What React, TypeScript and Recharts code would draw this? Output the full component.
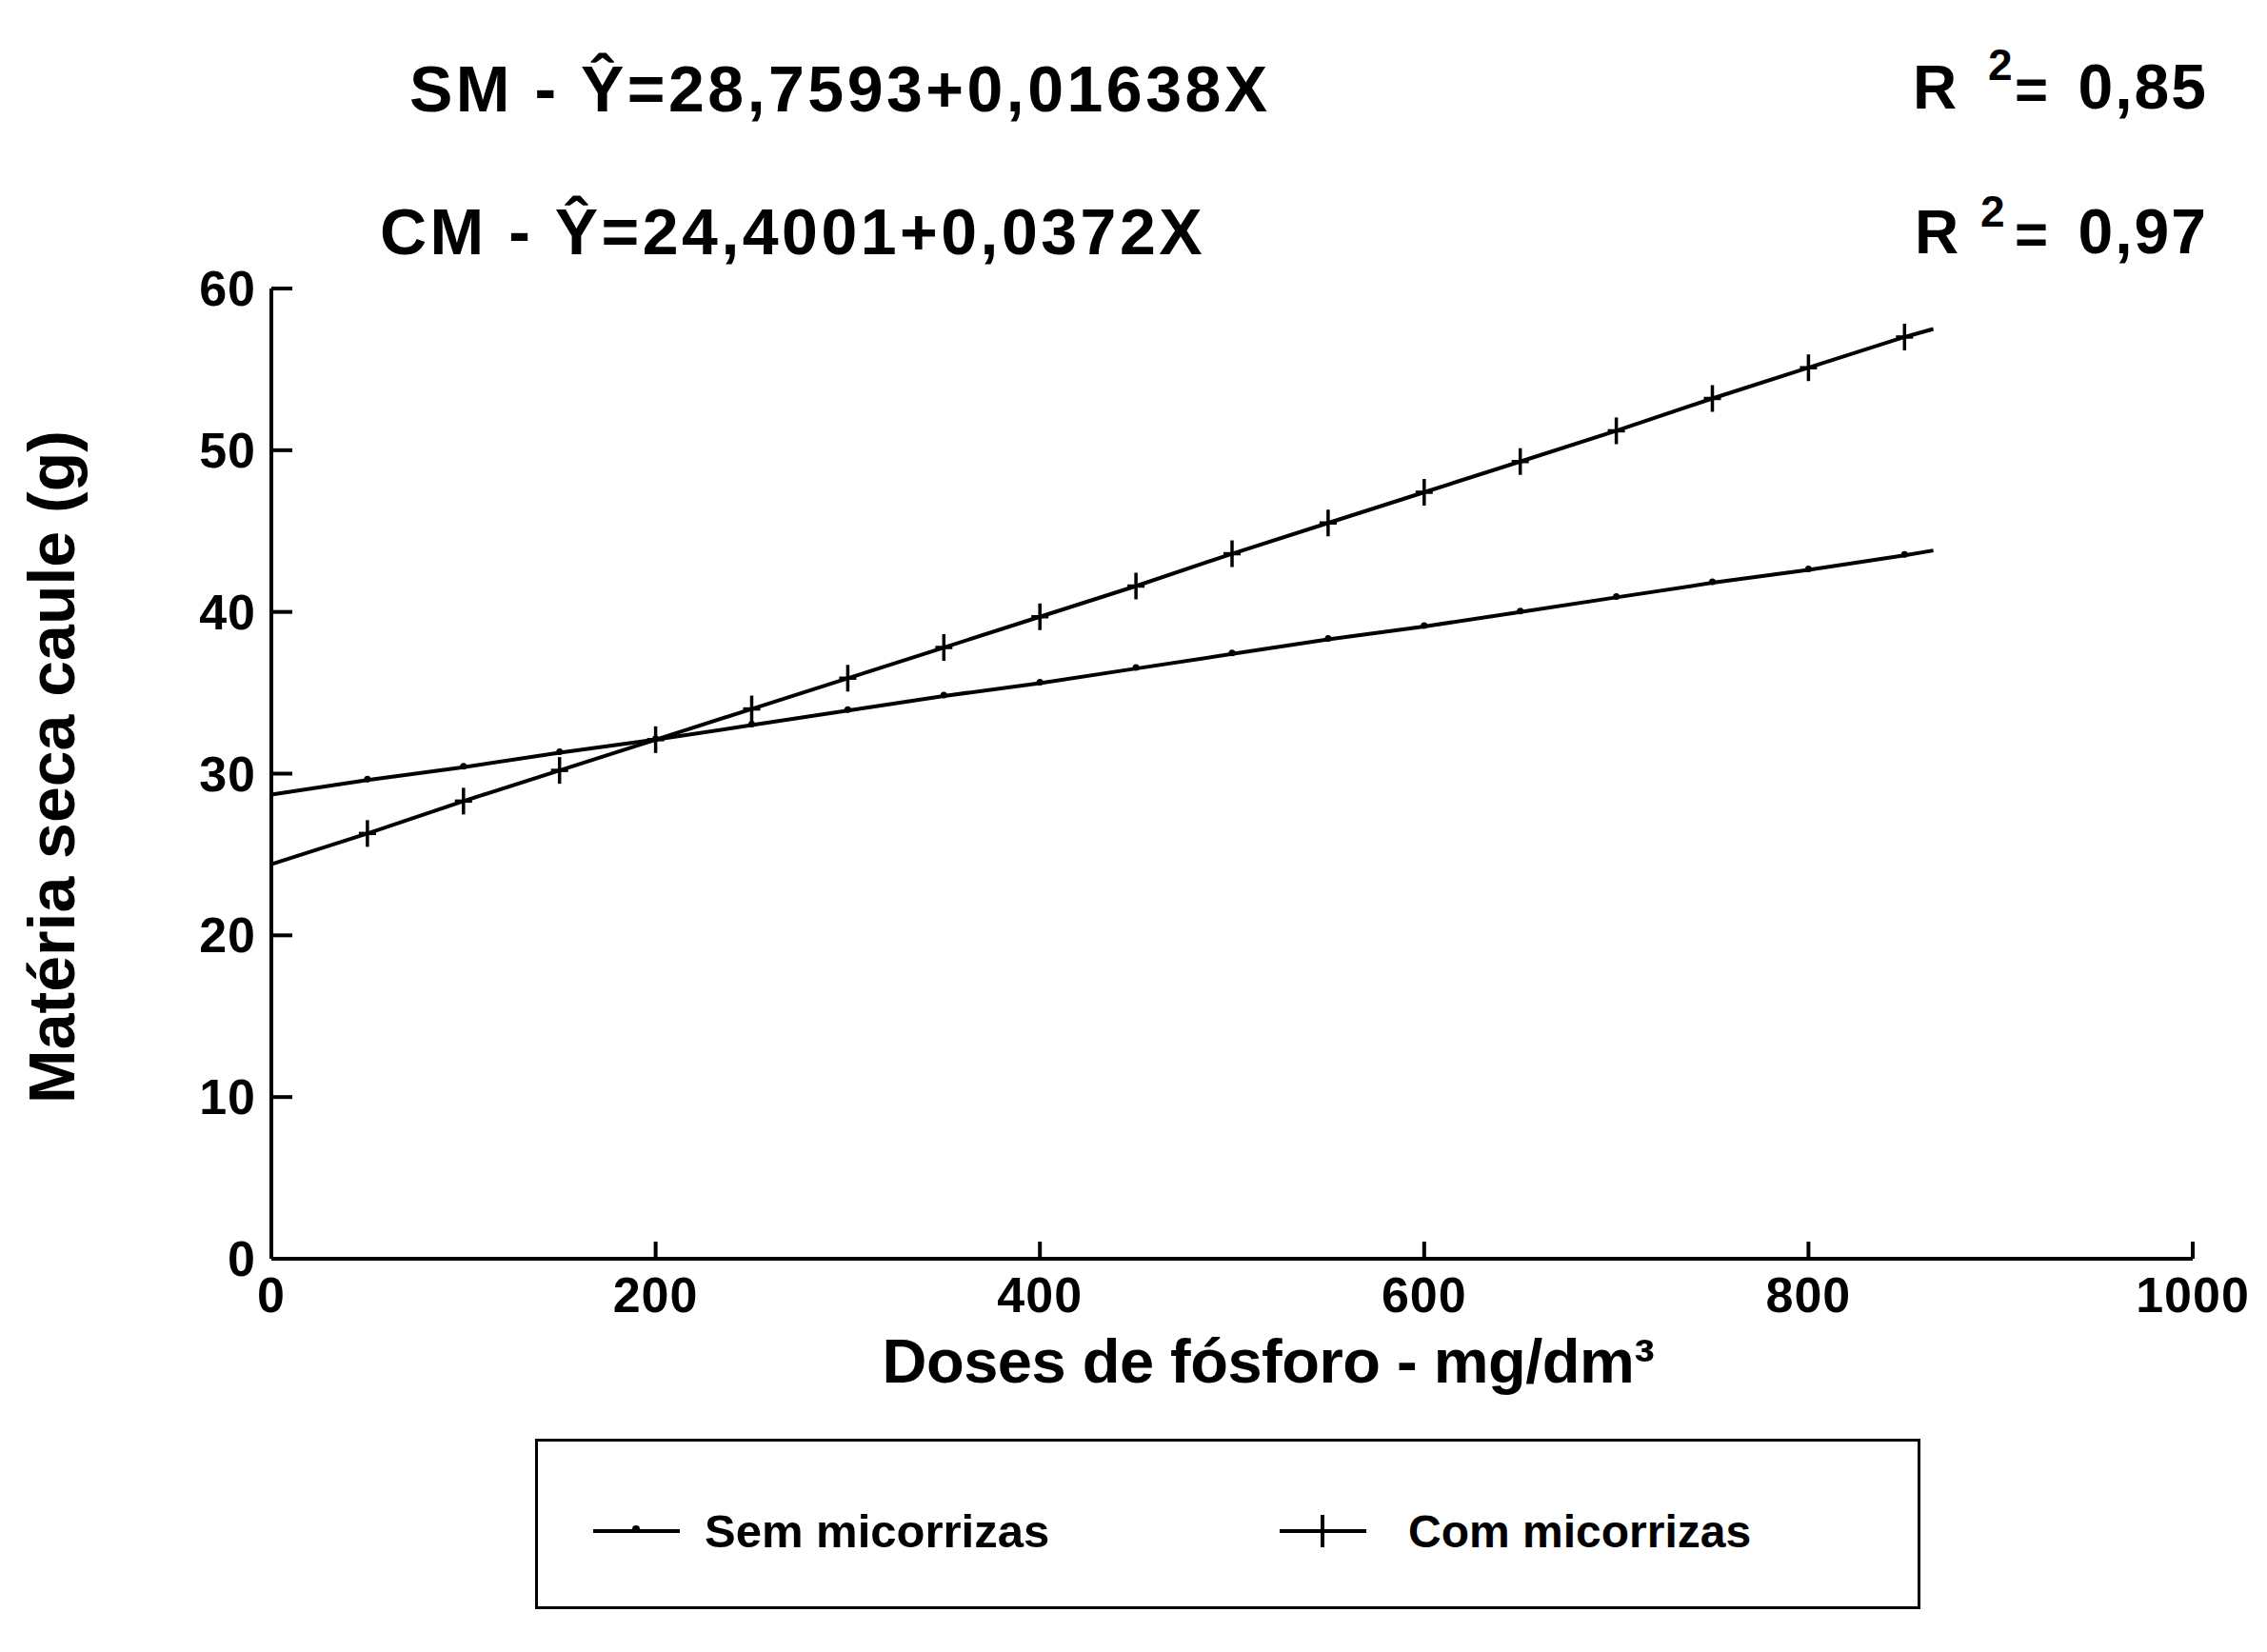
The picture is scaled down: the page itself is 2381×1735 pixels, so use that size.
import React from 'react';
import { LineChart, Line, XAxis, YAxis } from 'recharts';

// doses de fósforo (mg/dm³) e matéria seca do caule (g)
const doses = [0, 50, 100, 150, 200, 250, 300, 350, 400, 450, 500, 550, 600, 650, 700, 750, 800, 850, 865];
const semMicorrizas = [28.7, 29.6, 30.4, 31.3, 32.1, 33.0, 33.9, 34.8, 35.6, 36.5, 37.4, 38.3, 39.1, 40.0, 40.9, 41.8, 42.6, 43.5, 43.8];
const comMicorrizas = [24.4, 26.3, 28.3, 30.2, 32.1, 34.0, 35.9, 37.8, 39.7, 41.6, 43.6, 45.5, 47.4, 49.3, 51.2, 53.2, 55.1, 57.0, 57.5];

const xTicks = [0, 200, 400, 600, 800, 1000];
const yTicks = [0, 10, 20, 30, 40, 50, 60];

const equations = [
  { label: 'SM - Ŷ=28,7593+0,01638X', r2: '0,85' },
  { label: 'CM - Ŷ=24,4001+0,0372X', r2: '0,97' },
];

const legendLabels = ['Sem micorrizas', 'Com micorrizas'];

const data = doses.map((dose, i) => ({
  dose,
  sem: semMicorrizas[i],
  com: comMicorrizas[i],
}));

const FONT = '"Liberation Sans", Arial, Helvetica, sans-serif';
const Y_GAP = 16;
const X_GAP = 18;

const YTick = (props: any) => {
  const { x, y, payload } = props;
  const ax = x + Y_GAP;
  return (
    <g>
      <line x1={ax} x2={ax + 22} y1={y} y2={y} stroke='#000' strokeWidth={4} />
      <text
        x={x}
        y={y}
        textAnchor='end'
        dominantBaseline='central'
        fontFamily={FONT}
        fontWeight='bold'
        fontSize={52}
        letterSpacing={1}
        fill='#000'
      >
        {payload.value}
      </text>
    </g>
  );
};

const XTick = (props: any) => {
  const { x, y, payload } = props;
  const ay = y - X_GAP;
  return (
    <g>
      <line x1={x} x2={x} y1={ay} y2={ay - 18} stroke='#000' strokeWidth={4} />
      <text
        x={x}
        y={y}
        dy='0.74em'
        textAnchor='middle'
        fontFamily={FONT}
        fontWeight='bold'
        fontSize={52}
        letterSpacing={1}
        fill='#000'
      >
        {payload.value}
      </text>
    </g>
  );
};

const last = doses.length - 1;

const PlusDot = (props: any) => {
  const { cx, cy, index } = props;
  if (index === 0 || index === last) return <g key={`c-${index}`} />;
  return (
    <g key={`c-${index}`}>
      <line x1={cx} x2={cx} y1={cy - 14} y2={cy + 14} stroke='#000' strokeWidth={3.5} />
      <line x1={cx - 9} x2={cx + 9} y1={cy} y2={cy} stroke='#000' strokeWidth={3.5} />
    </g>
  );
};

const SmallDot = (props: any) => {
  const { cx, cy, index } = props;
  if (index === 0 || index === last) return <g key={`s-${index}`} />;
  return <circle key={`s-${index}`} cx={cx} cy={cy - 1} r={3.5} fill='#000' />;
};

const textStyle = {
  fontFamily: FONT,
  fontWeight: 'bold' as const,
  fill: '#000',
};

export default function App() {
  return (
    <div
      style={{
        position: 'absolute',
        left: 0,
        top: 0,
        width: 2381,
        height: 1735,
        background: '#fff',
        fontFamily: FONT,
      }}
    >
      <LineChart
        width={2381}
        height={1735}
        data={data}
        margin={{ top: 303, right: 78, left: 185, bottom: 333 }}
      >
        <XAxis
          dataKey='dose'
          type='number'
          domain={[0, 1000]}
          ticks={xTicks}
          height={80}
          tickSize={0}
          tickMargin={X_GAP}
          tickLine={false}
          axisLine={{ stroke: '#000', strokeWidth: 4 }}
          tick={<XTick />}
          label={(p: any) => {
            const vb = p.viewBox;
            return (
              <text
                x={vb.x + vb.width / 2 + 38}
                y={1452}
                textAnchor='middle'
                fontSize={65}
                letterSpacing={-0.5}
                {...textStyle}
              >
                Doses de fósforo - mg/dm³
              </text>
            );
          }}
        />
        <YAxis
          type='number'
          domain={[0, 60]}
          ticks={yTicks}
          width={100}
          tickSize={0}
          tickMargin={Y_GAP}
          tickLine={false}
          axisLine={{ stroke: '#000', strokeWidth: 4 }}
          tick={<YTick />}
          label={(p: any) => {
            const vb = p.viewBox;
            const cy = vb.y + vb.height / 2 - 7;
            return (
              <text
                x={78}
                y={cy}
                transform={`rotate(-90, 78, ${cy})`}
                textAnchor='middle'
                fontSize={68}
                {...textStyle}
              >
                Matéria seca caule (g)
              </text>
            );
          }}
        />
        <Line
          type='linear'
          dataKey='sem'
          stroke='#000'
          strokeWidth={4}
          dot={(p: any) => <SmallDot key={`s-${p.index}`} {...p} />}
          activeDot={false}
          isAnimationActive={false}
        />
        <Line
          type='linear'
          dataKey='com'
          stroke='#000'
          strokeWidth={4}
          dot={(p: any) => <PlusDot key={`c-${p.index}`} {...p} />}
          activeDot={false}
          isAnimationActive={false}
        />
      </LineChart>

      <svg
        width={2381}
        height={300}
        style={{ position: 'absolute', left: 0, top: 0, pointerEvents: 'none' }}
      >
        <text x={430} y={117} fontSize={68} letterSpacing={3.5} {...textStyle}>
          {equations[0].label}
        </text>
        <text x={399} y={267} fontSize={68} letterSpacing={3.5} {...textStyle}>
          {equations[1].label}
        </text>

        <text x={2009} y={114} fontSize={64} {...textStyle}>R</text>
        <text x={2088} y={84} fontSize={46} {...textStyle}>2</text>
        <text x={2116} y={114} fontSize={60} {...textStyle}>=</text>
        <text x={2319} y={114} fontSize={66} letterSpacing={2} textAnchor='end' {...textStyle}>
          {equations[0].r2}
        </text>

        <text x={2011} y={266} fontSize={64} {...textStyle}>R</text>
        <text x={2080} y={238} fontSize={46} {...textStyle}>2</text>
        <text x={2116} y={266} fontSize={60} {...textStyle}>=</text>
        <text x={2319} y={266} fontSize={66} letterSpacing={2} textAnchor='end' {...textStyle}>
          {equations[1].r2}
        </text>
      </svg>

      <div
        style={{
          position: 'absolute',
          left: 562,
          top: 1511,
          width: 1455,
          height: 179,
          border: '3px solid #000',
          boxSizing: 'border-box',
        }}
      >
        <svg width={1455} height={179} style={{ position: 'absolute', left: -3, top: -3 }}>
          <line x1={61} x2={152} y1={97} y2={97} stroke='#000' strokeWidth={4} />
          <circle cx={106} cy={95} r={4} fill='#000' />
          <text x={178} y={97} dominantBaseline='central' fontSize={49} {...textStyle}>
            {legendLabels[0]}
          </text>
          <line x1={782} x2={873} y1={97} y2={97} stroke='#000' strokeWidth={4} />
          <line x1={827} x2={827} y1={80} y2={114} stroke='#000' strokeWidth={4} />
          <text x={917} y={97} dominantBaseline='central' fontSize={48} {...textStyle}>
            {legendLabels[1]}
          </text>
        </svg>
      </div>
    </div>
  );
}
